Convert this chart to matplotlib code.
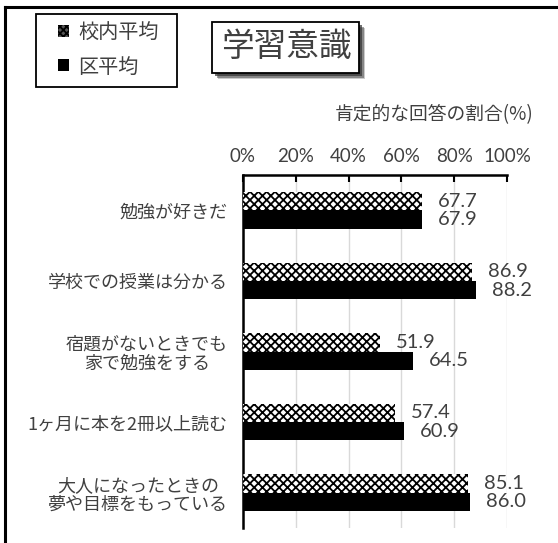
import matplotlib
matplotlib.use("Agg")
import matplotlib.pyplot as plt
from matplotlib.patches import Rectangle, Patch
from matplotlib.lines import Line2D

plt.rcParams['font.family'] = ['Noto Sans CJK JP', 'DejaVu Sans']
plt.rcParams['hatch.linewidth'] = 1.3

# データ
categories = ['勉強が好きだ', '学校での授業は分かる', '宿題がないときでも\n家で勉強をする',
              '1ヶ月に本を2冊以上読む', '大人になったときの\n夢や目標をもっている']
school_avg = [67.7, 86.9, 51.9, 57.4, 85.1]
ward_avg = [67.9, 88.2, 64.5, 60.9, 86.0]
series_names = ['校内平均', '区平均']
x_ticks = [0, 20, 40, 60, 80, 100]
x_tick_labels = ['0%', '20%', '40%', '60%', '80%', '100%']

W, H = 558, 543
TXT = '#404040'


def fx(px):
    return px / W


def fy(py):
    return 1 - py / H


fig = plt.figure(figsize=(W / 100, H / 100), dpi=100)

# 外枠（上と左のみ見える）
fig.add_artist(Line2D([fx(5), fx(560)], [fy(7), fy(7)], color='black', lw=2.2))
fig.add_artist(Line2D([fx(5), fx(5)], [fy(7), fy(545)], color='black', lw=2.2))

ax = fig.add_axes([fx(243), fy(528), fx(507) - fx(243), (528 - 175) / H])

ypos = list(range(len(categories)))
h = 0.26
bars1 = ax.barh([y - h / 2 for y in ypos], school_avg, height=h, facecolor='white',
                edgecolor='black', hatch='xxxx', linewidth=0, zorder=3)
bars2 = ax.barh([y + h / 2 for y in ypos], ward_avg, height=h, color='black', zorder=3)

for b, v in zip(bars1, school_avg):
    ax.annotate(f'{v:.1f}', (b.get_width(), b.get_y() + b.get_height() / 2),
                xytext=(11.5, 0), textcoords='offset points', va='center', ha='left',
                fontsize=14.5, color=TXT, family='Lato')
for b, v in zip(bars2, ward_avg):
    ax.annotate(f'{v:.1f}', (b.get_width(), b.get_y() + b.get_height() / 2),
                xytext=(11.5, 0), textcoords='offset points', va='center', ha='left',
                fontsize=14.5, color=TXT, family='Lato')

ax.set_xlim(0, 100)
ax.set_ylim(len(categories) - 0.5, -0.5)
ax.xaxis.tick_top()
ax.set_xticks(x_ticks)
ax.set_xticklabels(x_tick_labels, fontsize=13.5, color=TXT, family='Lato')
ax.tick_params(axis='x', direction='in', length=5, width=1.5, pad=7, colors='black',
               labelcolor=TXT)
ax.set_yticks(ypos)
ax.set_yticklabels(categories, fontsize=13, color=TXT, linespacing=1.1,
                   multialignment='center')
ax.tick_params(axis='y', length=0, pad=11)
ax.grid(axis='x', color='#d9d9d9', lw=1, zorder=0)
ax.set_axisbelow(True)
for s in ['right', 'bottom']:
    ax.spines[s].set_visible(False)
ax.spines['top'].set_linewidth(1.8)
ax.spines['left'].set_linewidth(1.8)

fig.text(fx(533), fy(115), '肯定的な回答の割合(%)', ha='right', va='center',
         fontsize=13.5, color=TXT)

# 凡例
fig.add_artist(Rectangle((fx(36), fy(87)), fx(177) - fx(36), fy(14) - fy(87),
                         facecolor='white', edgecolor='black', lw=1.3))
handles = [Patch(facecolor='#555555', edgecolor='black', hatch='xxxxx', linewidth=0),
           Patch(facecolor='black', edgecolor='black', linewidth=0)]
fig.legend(handles, series_names, loc='center left', bbox_to_anchor=(fx(58), fy(50)),
           frameon=False, fontsize=14.5, handlelength=0.55, handleheight=0.55,
           handletextpad=0.45, labelspacing=0.65, borderpad=0, borderaxespad=0,
           labelcolor=TXT)

# タイトル（影付きボックス）
for i, a in enumerate([0.25, 0.45, 0.7]):
    off = 6 - i * 1.5
    fig.add_artist(Rectangle((fx(212 + off), fy(73 + off)), fx(359) - fx(212),
                             fy(22) - fy(73), facecolor='#333333', edgecolor='none',
                             alpha=a))
fig.add_artist(Rectangle((fx(212), fy(73)), fx(359) - fx(212), fy(22) - fy(73),
                         facecolor='white', edgecolor='black', lw=1.3))
fig.text(fx(286), fy(47), '学習意識', ha='center', va='center', fontsize=23.5, color=TXT)

fig.savefig('out.png', dpi=100)
